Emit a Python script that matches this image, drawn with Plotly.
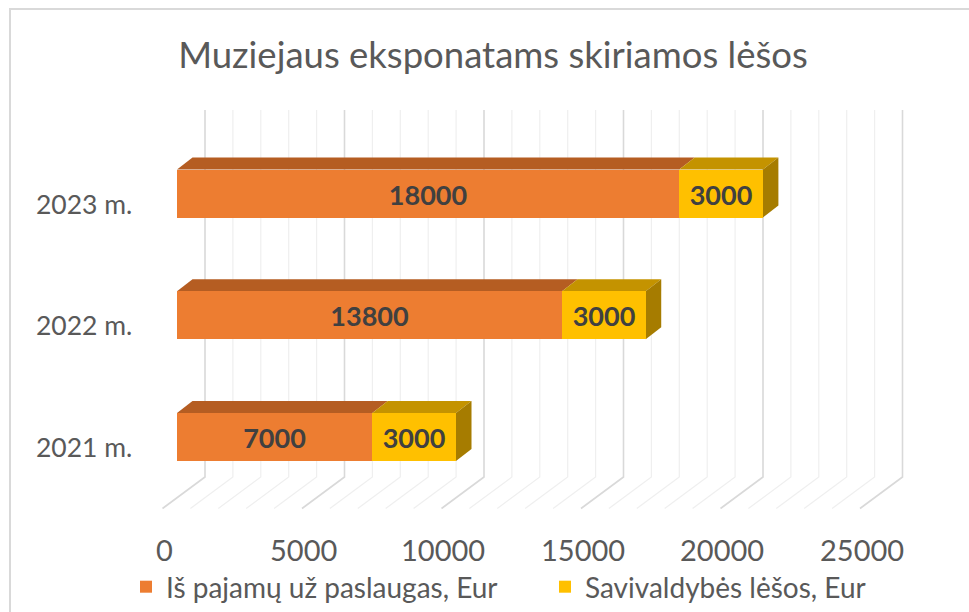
import plotly.graph_objects as go

# ---------------- data ----------------
categories = ["2021 m.", "2022 m.", "2023 m."]
series_names = ["Iš pajamų už paslaugas, Eur", "Savivaldybės lėšos, Eur"]
income_values = [7000, 13800, 18000]
municipal_values = [3000, 3000, 3000]
tick_values = [0, 5000, 10000, 15000, 20000, 25000]
tick_labels = [str(v) for v in tick_values]
title_text = "Muziejaus eksponatams skiriamos lėšos"

# ---------------- style / projection ----------------
W, H = 969, 612
FONT = "Lato"
TXT = "#595959"
LBL = "#404040"
front_colors = ["#ED7D31", "#FFC000"]
top_colors = ["#B55D22", "#C49300"]
side_colors = ["#A0662A", "#A67C00"]

K = 0.0279            # px per value unit
X0 = 177.0            # px of value 0 on the bar front plane
Y0 = 437.0            # px of category index 0 centre
CAT = 121.75          # px per category
BAR_H = 48.0          # px
xr = [(0 - X0) / K, (W - X0) / K]
yr = [(Y0 - H) / CAT, (Y0 - 0) / CAT]


def dx(px):
    return px / K


def dy(px):
    return px / CAT


def ypx(py):  # pixel y -> axis y
    return (Y0 - py) / CAT


bw = BAR_H / CAT
depth_x, depth_y = dx(15.5), dy(12)

fig = go.Figure()
ypos = list(range(len(categories)))
for name, vals, col in zip(series_names, [income_values, municipal_values], front_colors):
    fig.add_trace(go.Bar(
        y=ypos, x=vals, name=name, orientation="h", width=bw,
        marker=dict(color=col, line=dict(width=0)),
        text=[str(v) for v in vals], textposition="inside", insidetextanchor="middle",
        textfont=dict(family=FONT, size=27, color=LBL, weight="bold"),
        constraintext="none", hoverinfo="x+name",
    ))

shapes = []
# back wall + floor gridlines
wall_dx = dx(205 - X0)
floor_dx = dx(-42.5)
for v in range(0, 26000, 1000):
    major = v % 5000 == 0
    col = "#D9D9D9" if major else "#EFEFEF"
    xw = v + wall_dx
    path = (f"M {xw},{ypx(110)} L {xw},{ypx(477)} "
            f"L {xw + floor_dx},{ypx(508.5)}")
    shapes.append(dict(type="path", path=path, xref="x", yref="y",
                       line=dict(color=col, width=1.6 if major else 1.2),
                       layer="below"))

# 3D faces of stacked bars
for i in ypos:
    yt = i + bw / 2
    yb = i - bw / 2
    start = 0
    segs = [income_values[i], municipal_values[i]]
    for s, val in enumerate(segs):
        x0, x1 = start, start + val
        shapes.append(dict(
            type="path", xref="x", yref="y", layer="below",
            path=f"M {x0},{yt} L {x1},{yt} L {x1 + depth_x},{yt + depth_y} L {x0 + depth_x},{yt + depth_y} Z",
            fillcolor=top_colors[s], line=dict(width=0)))
        start = x1
    shapes.append(dict(
        type="path", xref="x", yref="y", layer="below",
        path=f"M {start},{yt} L {start + depth_x},{yt + depth_y} L {start + depth_x},{yb + depth_y} L {start},{yb} Z",
        fillcolor=side_colors[1], line=dict(width=0)))

# chart border
shapes.append(dict(type="rect", xref="paper", yref="paper",
                   x0=10 / W, x1=1.05, y0=-0.05, y1=1 - 9 / H,
                   line=dict(color="#D9D9D9", width=2), layer="below"))

annotations = []
for v, lab in zip(tick_values, tick_labels):
    annotations.append(dict(x=v + dx(164 - X0), y=1 - 549 / H, xref="x", yref="paper",
                            text=lab, showarrow=False, xanchor="center", yanchor="middle",
                            font=dict(family=FONT, size=29, color=TXT)))
for i, c in enumerate(categories):
    annotations.append(dict(x=134 / W, y=i - dy(10), xref="paper", yref="y",
                            text=c, showarrow=False, xanchor="right", yanchor="middle",
                            font=dict(family=FONT, size=26.5, color=TXT)))

fig.update_layout(
    width=W, height=H,
    margin=dict(l=0, r=0, t=0, b=0, pad=0),
    paper_bgcolor="white", plot_bgcolor="rgba(0,0,0,0)",
    barmode="stack", bargap=0,
    title=dict(text=title_text, x=493 / W, xanchor="center", y=1 - 55 / H, yanchor="middle",
               font=dict(family=FONT, size=36.5, color=TXT)),
    xaxis=dict(range=xr, visible=False, fixedrange=True),
    yaxis=dict(range=yr, visible=False, fixedrange=True),
    shapes=shapes, annotations=annotations,
    legend=dict(orientation="h", x=126 / W, xanchor="left", y=1 - 587 / H, yanchor="middle",
                font=dict(family=FONT, size=28, color=TXT), traceorder="normal",
                entrywidth=374, entrywidthmode="pixels", bgcolor="rgba(0,0,0,0)"),
    showlegend=True,
)

fig.write_html("out.html", config={"displayModeBar": False},
               post_script="document.body.style.margin='0px';")
